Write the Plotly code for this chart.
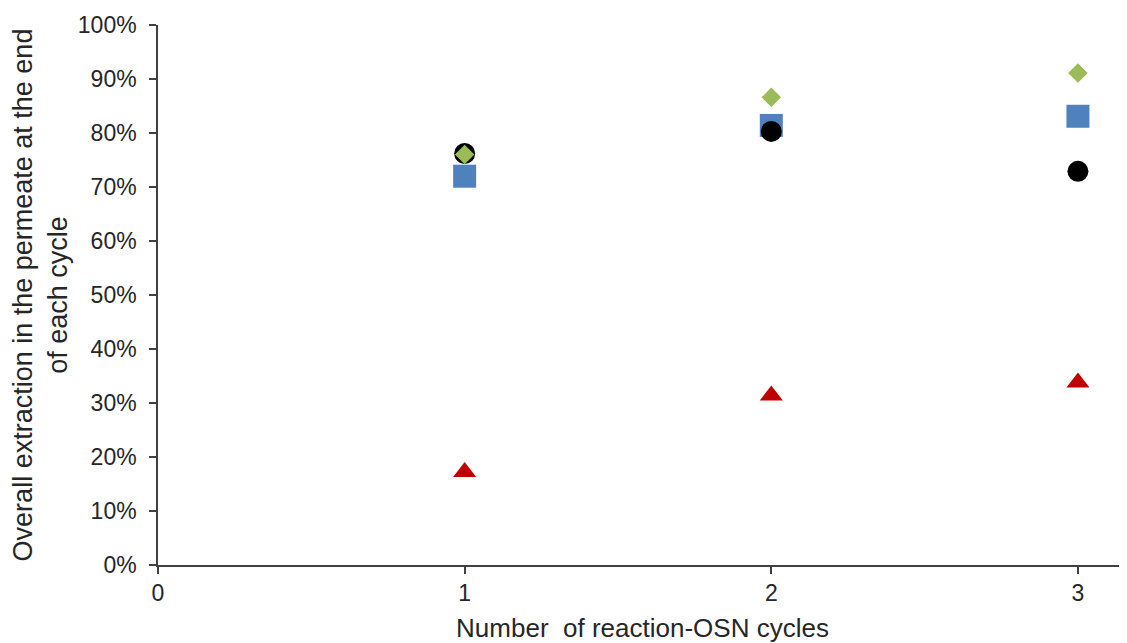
import plotly.graph_objects as go

cycles = [1, 2, 3]
series_circle = [0.762, 0.803, 0.729]   # black circles
series_square = [0.720, 0.814, 0.831]   # blue squares
series_diamond = [0.760, 0.866, 0.911]  # green diamonds
series_triangle = [0.172, 0.314, 0.338] # red triangles

y_ticks = [0, 0.1, 0.2, 0.3, 0.4, 0.5, 0.6, 0.7, 0.8, 0.9, 1.0]
x_ticks = [0, 1, 2, 3]

fig = go.Figure()
fig.add_trace(go.Scatter(x=cycles, y=series_triangle, mode="markers",
                         marker=dict(symbol="triangle-up", size=20, color="#C00000"),
                         name="triangle"))
fig.add_trace(go.Scatter(x=cycles, y=series_square, mode="markers",
                         marker=dict(symbol="square", size=23, color="#4F81BD"),
                         name="square"))
fig.add_trace(go.Scatter(x=cycles, y=series_circle, mode="markers",
                         marker=dict(symbol="circle", size=21, color="#000000"),
                         name="circle"))
fig.add_trace(go.Scatter(x=cycles, y=series_diamond, mode="markers",
                         marker=dict(symbol="diamond", size=15, color="#9BBB59"),
                         name="diamond"))

font_family = "Liberation Sans, Arial, sans-serif"
# page body has an 8px margin; figure sized to compensate
fig.update_layout(
    width=1119, height=635,
    margin=dict(l=150, r=0, t=17, b=78, autoexpand=False),
    paper_bgcolor="white", plot_bgcolor="white",
    showlegend=False,
    font=dict(family=font_family, size=23, color="#262626"),
)
fig.update_xaxes(
    range=[0, 3.16], tickvals=x_ticks, ticktext=[str(v) for v in x_ticks],
    showgrid=False, zeroline=False, showline=True, linecolor="#404040", linewidth=1.5,
    ticks="outside", ticklen=7, tickcolor="#404040", tickwidth=1.5,
    tickfont=dict(size=23),
    title=dict(text="Number&nbsp;&nbsp;of reaction-OSN cycles", font=dict(size=26), standoff=20),
    automargin=False,
)
fig.update_yaxes(
    range=[0, 1.0], tickvals=y_ticks, tickformat=".0%",
    showgrid=False, zeroline=False, showline=True, linecolor="#404040", linewidth=1.5,
    ticks="outside", ticklen=7, tickcolor="#404040", tickwidth=1.5,
    ticklabelstandoff=8,
    tickfont=dict(size=23),
    title=dict(text="Overall extraction in the permeate at the end<br>of each cycle",
               font=dict(size=27), standoff=8),
    automargin=False,
)

fig.write_html("out.html")
